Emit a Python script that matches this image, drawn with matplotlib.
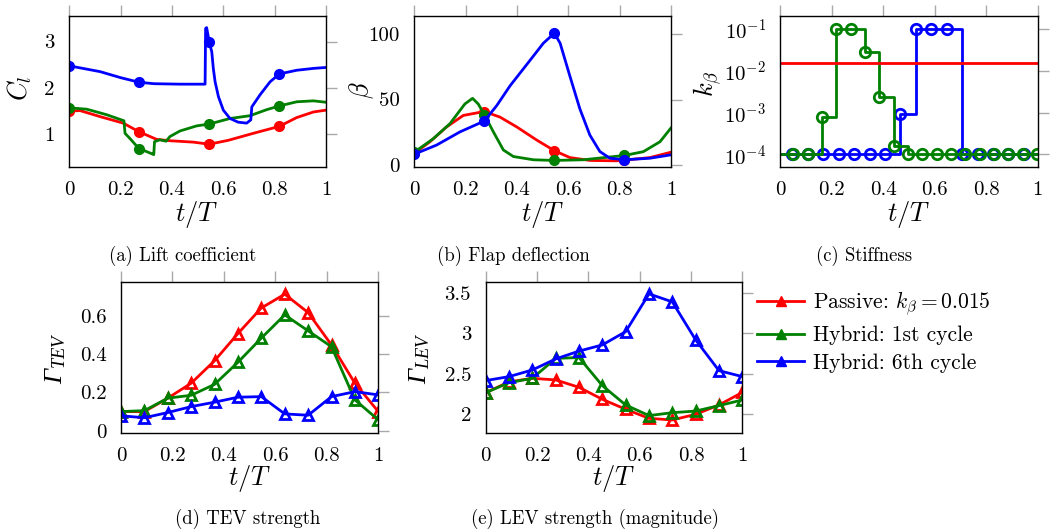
import numpy as np
import matplotlib
matplotlib.use("Agg")
import matplotlib.pyplot as plt
from matplotlib.lines import Line2D
from matplotlib.ticker import FixedLocator, FixedFormatter, LogLocator, NullFormatter

plt.rcParams['font.family'] = ['cmr10']
plt.rcParams['mathtext.fontset'] = 'cm'
plt.rcParams['mathtext.rm'] = 'Liberation Serif:italic'
plt.rcParams['mathtext.it'] = 'Liberation Serif:italic'
plt.rcParams['axes.formatter.use_mathtext'] = True
plt.rcParams['axes.unicode_minus'] = False

# ---------------- data ----------------
marker_t = [0.0, 3/11, 6/11, 9/11]

# (a) lift coefficient
t_cl_passive = [0.0, 0.042, 0.12, 0.21, 3/11, 0.34, 0.392, 0.483, 6/11, 0.62, 0.717, 9/11, 0.886, 0.951, 1.0]
cl_passive = [1.50, 1.51, 1.38, 1.24, 1.05, 0.89, 0.86, 0.83, 0.785, 0.87, 1.02, 1.17, 1.36, 1.48, 1.52]
t_cl_h1 = [0.0, 0.068, 0.146, 0.213, 0.217, 0.236, 3/11, 0.295, 0.321, 0.329, 0.332, 0.353, 0.377, 0.392,
           0.431, 0.496, 6/11, 0.626, 0.704, 0.769, 9/11, 0.886, 0.951, 1.0]
cl_h1 = [1.57, 1.54, 1.42, 1.29, 1.02, 0.91, 0.68, 0.64, 0.58, 0.56, 0.84, 0.88, 0.85, 0.95,
         1.07, 1.18, 1.22, 1.34, 1.40, 1.53, 1.61, 1.70, 1.72, 1.69]
t_cl_h6 = [0.0, 0.12, 0.2, 3/11, 0.33, 0.43, 0.529, 0.531, 0.535, 6/11, 0.555, 0.561, 0.568, 0.581, 0.6,
           0.626, 0.658, 0.691, 0.707, 0.711, 0.743, 0.782, 9/11, 0.886, 0.951, 1.0]
cl_h6 = [2.475, 2.35, 2.22, 2.12, 2.09, 2.08, 2.08, 3.28, 3.30, 2.98, 2.78, 2.42, 2.13, 1.81, 1.52,
         1.34, 1.26, 1.24, 1.31, 1.59, 1.85, 2.13, 2.30, 2.38, 2.42, 2.44]

# (b) flap deflection
t_b_passive = [0.0, 0.061, 0.126, 0.191, 3/11, 0.334, 0.399, 0.477, 6/11, 0.606, 0.684, 0.788, 9/11, 0.918, 1.0]
b_passive = [8.8, 17.6, 29.0, 37.8, 40.8, 36.5, 29.0, 18.9, 10.8, 5.5, 3.3, 3.0, 3.5, 5.5, 9.6]
t_b_h1 = [0.0, 0.074, 0.139, 0.197, 0.227, 0.249, 3/11, 0.308, 0.347, 0.386, 0.464, 6/11, 0.658, 9/11, 0.892, 0.957, 1.0]
b_h1 = [9.6, 20.0, 31.5, 46.6, 50.9, 46.6, 38.5, 25.2, 11.3, 6.3, 3.8, 3.3, 3.8, 7.1, 10.0, 17.6, 28.2]
t_b_h6 = [0.0, 0.087, 0.178, 3/11, 0.321, 0.373, 0.438, 0.503, 6/11, 0.568, 0.606, 0.645, 0.684, 0.723, 0.762, 9/11, 0.918, 1.0]
b_h6 = [8.1, 15.1, 25.2, 33.5, 45.3, 60.5, 76.8, 93.2, 100.8, 93.2, 68.0, 42.8, 22.7, 10.1, 5.0, 3.8, 5.0, 7.6]

# (c) stiffness (step data)
k_passive = 0.015
t_k_passive = [0.0, 1.0]
t_k_h1 = [0.0, 0.050, 0.106, 0.161, 0.217, 0.273, 0.329, 0.385, 0.440, 0.496, 0.552, 0.608, 0.664,
          0.719, 0.775, 0.831, 0.887, 0.942, 0.998, 1.0]
k_h1 = [1e-4, 1e-4, 1e-4, 7.7e-4, 0.1, 0.1, 0.0287, 0.0024, 1.6e-4, 1e-4, 1e-4, 1e-4, 1e-4,
        1e-4, 1e-4, 1e-4, 1e-4, 1e-4, 1e-4, 1e-4]
t_k_h6 = [0.0, 0.047, 0.107, 0.167, 0.227, 0.287, 0.347, 0.407, 0.467, 0.527, 0.587, 0.647, 0.707,
          0.767, 0.827, 0.887, 0.947, 1.0]
k_h6 = [1e-4, 1e-4, 1e-4, 1e-4, 1e-4, 1e-4, 1e-4, 1e-4, 9.1e-4, 0.1, 0.1, 0.1, 1e-4,
        1e-4, 1e-4, 1e-4, 1e-4, 1e-4]

# (d), (e) vortex strengths
t_gamma = [0.0, 1/11, 2/11, 3/11, 4/11, 5/11, 6/11, 7/11, 8/11, 9/11, 10/11, 1.0]
tev_passive = [0.10, 0.10, 0.17, 0.248, 0.365, 0.507, 0.64, 0.712, 0.616, 0.447, 0.248, 0.10]
tev_h1 = [0.10, 0.105, 0.17, 0.185, 0.242, 0.357, 0.483, 0.604, 0.521, 0.438, 0.161, 0.057]
tev_h6 = [0.078, 0.068, 0.095, 0.126, 0.149, 0.175, 0.178, 0.088, 0.081, 0.178, 0.204, 0.187]
lev_passive = [2.267, 2.40, 2.444, 2.424, 2.333, 2.185, 2.062, 1.95, 1.93, 2.0, 2.115, 2.27]
lev_h1 = [2.267, 2.39, 2.444, 2.69, 2.70, 2.354, 2.115, 1.984, 2.02, 2.04, 2.107, 2.177]
lev_h6 = [2.416, 2.465, 2.547, 2.683, 2.78, 2.856, 3.02, 3.486, 3.387, 2.918, 2.539, 2.465]

series_labels = [r"Passive: $k_\beta = 0.015$", "Hybrid: 1st cycle", "Hybrid: 6th cycle"]
colors = ['#ff0000', '#008000', '#0000ff']

xticks = [0, 0.2, 0.4, 0.6, 0.8, 1.0]
xticklabels = ['0', '0.2', '0.4', '0.6', '0.8', '1']

# ---------------- figure ----------------
W, H = 1050, 531
fig = plt.figure(figsize=(W / 100, H / 100), dpi=100)

def add_ax(left, right, top, bottom):
    return fig.add_axes([left / W, 1 - bottom / H, (right - left) / W, (bottom - top) / H])

TICKC = '#a9a9a9'

def style(ax, yticks, ylabels):
    ax.set_xlim(0, 1)
    ax.xaxis.set_major_locator(FixedLocator(xticks))
    ax.xaxis.set_major_formatter(FixedFormatter(xticklabels))
    if yticks is not None:
        ax.yaxis.set_major_locator(FixedLocator(yticks))
        ax.yaxis.set_major_formatter(FixedFormatter(ylabels))
    ax.tick_params(which='major', top=True, right=True, bottom=False, left=False,
                   direction='out', length=8, width=1.0, color=TICKC, labelsize=15, pad=2.5)
    for s in ax.spines.values():
        s.set_linewidth(1.0)

def marks(t):
    return [i for i, v in enumerate(t) if any(abs(v - m) < 1e-6 for m in marker_t)]

# (a)
axa = add_ax(69.3, 326.0, 16.0, 166.7)
for t, y, c in [(t_cl_passive, cl_passive, colors[0]), (t_cl_h1, cl_h1, colors[1]), (t_cl_h6, cl_h6, colors[2])]:
    axa.plot(t, y, color=c, lw=2.0, marker='o', ms=7, markevery=marks(t))
axa.set_ylim(0.30, 3.55)
style(axa, [1, 2, 3], ['1', '2', '3'])

# (b)
axb = add_ax(414.3, 671.0, 16.0, 166.7)
for t, y, c in [(t_b_passive, b_passive, colors[0]), (t_b_h1, b_h1, colors[1]), (t_b_h6, b_h6, colors[2])]:
    axb.plot(t, y, color=c, lw=2.0, marker='o', ms=7, markevery=marks(t))
axb.set_ylim(-1.5, 114)
style(axb, [0, 50, 100], ['0', '50', '100'])

# (c)
axc = add_ax(780.4, 1037.5, 16.0, 166.7)
axc.step(t_k_h6, k_h6, where='post', color=colors[2], lw=2.0, marker='o', ms=7.5, mfc='none', mew=2.0,
         markevery=list(range(1, len(t_k_h6) - 1)))
axc.step(t_k_h1, k_h1, where='post', color=colors[1], lw=2.0, marker='o', ms=7.5, mfc='none', mew=2.0,
         markevery=list(range(1, len(t_k_h1) - 1)))
axc.plot(t_k_passive, [k_passive] * len(t_k_passive), color=colors[0], lw=2.0)
axc.set_yscale('log')
axc.set_ylim(5.07e-5, 0.205)
style(axc, None, None)
axc.yaxis.set_major_locator(FixedLocator([1e-4, 1e-3, 1e-2, 1e-1]))
axc.yaxis.set_minor_locator(LogLocator(base=10, subs=np.arange(2, 10)))
axc.yaxis.set_minor_formatter(NullFormatter())
axc.tick_params(which='minor', axis='y', right=True, left=False, direction='out', length=4,
                width=0.8, color=TICKC)
axc.tick_params(which='minor', axis='x', bottom=False, top=False)

# (d)
axd = add_ax(121.0, 378.3, 281.7, 432.7)
for y, c in zip([tev_passive, tev_h1, tev_h6], colors):
    axd.plot(t_gamma, y, color=c, lw=2.0, marker='^', ms=7.5, mfc='none', mew=2.0)
axd.set_ylim(-0.01, 0.777)
style(axd, [0, 0.2, 0.4, 0.6], ['0', '0.2', '0.4', '0.6'])

# (e)
axe = add_ax(485.7, 742.3, 281.7, 432.7)
for y, c in zip([lev_passive, lev_h1, lev_h6], colors):
    axe.plot(t_gamma, y, color=c, lw=2.0, marker='^', ms=7.5, mfc='none', mew=2.0)
axe.set_ylim(1.773, 3.636)
style(axe, [2, 2.5, 3, 3.5], ['2', '2.5', '3', '3.5'])

# labels
LBL = 19
def ftext(x, y, s, **kw):
    return fig.text(x / W, 1 - y / H, s, ha='center', va='center', **kw)

for xc, yc in [(197, 215), (543, 215), (909, 215), (250, 478), (614, 478)]:
    ftext(xc, yc, r"$t/T$", fontsize=LBL)

ftext(20, 88, r"$C_l$", fontsize=LBL, rotation=90)
ftext(362, 90, r"$\beta$", fontsize=LBL, rotation=90)
ftext(707, 84, r"$k_\beta$", fontsize=LBL, rotation=90)
ftext(56, 358, r"$\Gamma_{TEV}$", fontsize=LBL, rotation=90, math_fontfamily='custom')
ftext(420, 358, r"$\Gamma_{LEV}$", fontsize=LBL, rotation=90, math_fontfamily='custom')

CAP = 13.5
ftext(183, 256, "(a) Lift coefficient", fontsize=CAP)
ftext(513, 256, "(b) Flap deflection", fontsize=CAP)
ftext(864, 256, "(c) Stiffness", fontsize=CAP)
ftext(248, 519, "(d) TEV strength", fontsize=CAP)
ftext(595, 519, "(e) LEV strength (magnitude)", fontsize=CAP)

# legend
handles = [Line2D([], [], color=c, lw=2.0, marker='^', ms=7) for c in colors]
fig.legend(handles, series_labels, loc='upper left', bbox_to_anchor=(757 / W, 1 - 289 / H),
           frameon=False, fontsize=15.5, handlelength=2.2, handletextpad=0.4,
           labelspacing=0.38, borderpad=0, borderaxespad=0)

fig.savefig('out.png', dpi=100)
